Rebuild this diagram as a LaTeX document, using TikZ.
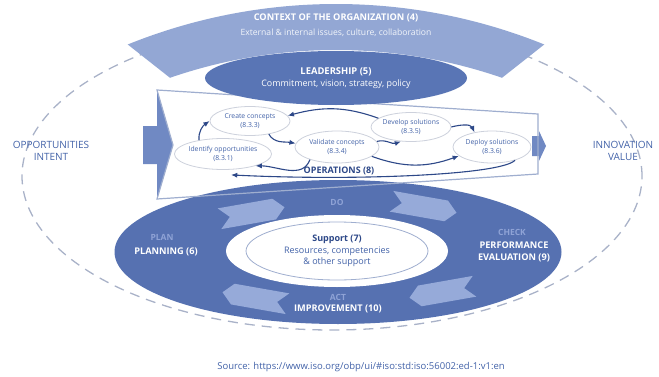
\documentclass[tikz,border=0pt]{standalone}
\usepackage{fontspec}
\setmainfont{Open Sans}
\usepackage{xcolor}
\usepackage{tikz}
\usetikzlibrary{arrows.meta,positioning,shapes.geometric,shapes.symbols}

\definecolor{ctxblue}{HTML}{93A7D4}
\definecolor{leadblue}{HTML}{5975B5}
\definecolor{ringblue}{HTML}{5671B1}
\definecolor{chevblue}{HTML}{9DB1DE}
\definecolor{phaseblue}{HTML}{8FA3D6}
\definecolor{arrowblue}{HTML}{7089C3}
\definecolor{navy}{HTML}{2D4888}
\definecolor{txtblue}{HTML}{4262A8}
\definecolor{dashgray}{HTML}{A9B2C8}
\definecolor{rimgray}{HTML}{9FAECF}
\definecolor{procgray}{HTML}{CDD1DC}

\begin{document}
\begin{tikzpicture}[
  x=1pt, y=1pt,
  proc/.style={draw=procgray, line width=0.8pt, fill=white, ellipse, inner sep=0pt,
               align=center, text=txtblue, font=\fontsize{6.8}{8.5}\selectfont},
  arr/.style={-{Latex[length=2.2mm, width=1.8mm]}, navy, line width=1.1pt},
  ringlbl/.style={text=white, font=\fontsize{9.2}{12}\selectfont\bfseries, align=center},
  phase/.style={text=phaseblue, font=\fontsize{8.5}{9}\selectfont\bfseries},
  chev/.style={signal, fill=chevblue, fill opacity=0.9, minimum width=66pt,
               minimum height=21pt, inner sep=0pt},
  side/.style={text=txtblue, font=\fontsize{10}{12.5}\selectfont, align=center}
]
\useasboundingbox (0,0) rectangle (659,376);

\draw[dashgray, line width=1.3pt, dash pattern=on 10pt off 7pt]
  (332,200) ellipse [x radius=310, y radius=154];

% context band
\fill[ctxblue] ([shift={(336,-184)}]112:556) arc[start angle=112, end angle=68, radius=556]
  -- ([shift={(336,-184)}]71:510) arc[start angle=71, end angle=109, radius=510] -- cycle;
\node[text=white, font=\fontsize{9.2}{10}\selectfont\bfseries] (ctx) at (336,358)
  {CONTEXT OF THE ORGANIZATION (4)};
\node[text=white!88!ctxblue, font=\fontsize{8.6}{9}\selectfont, below=0pt of ctx] (ctxsub)
  {External \& internal issues, culture, collaboration};

% operations panel
\fill[white] (157,286) -- (538,262) -- (538,202) -- (157,177) -- (173,231) -- cycle;
\fill[arrowblue] (143,212) -- (157,212) -- (157,177) -- (173,231) -- (157,286)
  -- (157,250) -- (143,250) -- cycle;
\fill[arrowblue] (532,220) -- (539,220) -- (539,215) -- (546,230) -- (539,245)
  -- (539,240) -- (532,240) -- cycle;

\node[ellipse, fill=ringblue, minimum width=447pt, minimum height=144pt, inner sep=0pt]
  (ring) at (338,124) {};
\draw[rimgray, line width=1.2pt] (157,286) -- (538,262) -- (538,202) -- (157,177)
  -- (173,231) -- cycle;

\node[proc, minimum width=92pt, minimum height=31pt] (identify) at (223,222)
  {Identify opportunities\\(8.3.1)};
\node[proc, minimum width=80pt, minimum height=29pt] (create) at (250,255)
  {Create concepts\\(8.3.3)};
\node[proc, minimum width=84pt, minimum height=32pt] (validate) at (337,229)
  {Validate concepts\\(8.3.4)};
\node[proc, minimum width=78pt, minimum height=29pt] (develop) at (411,249)
  {Develop solutions\\(8.3.5)};
\node[proc, minimum width=78pt, minimum height=32pt] (deploy) at (492,229)
  {Deploy solutions\\(8.3.6)};

\draw[arr] (identify.150) to[out=95, in=215] (create.west);
\draw[arr] (create.-35) to[out=-60, in=170] (validate.175);
\draw[arr] (validate.-155) to[out=-110, in=0] (identify.-20);
\draw[arr] (develop.165) to[out=160, in=15] (create.8);
\draw[arr] (validate.8) to[out=15, in=-160] (develop.-125);
\draw[arr] (develop.east) to[out=15, in=115] (deploy.140);
\draw[arr] (validate.-15) to[out=-20, in=200] (deploy.195);
\draw[arr] (deploy.-30) .. controls +(-15,-15) and +(120,-6)
  .. ([xshift=8pt, yshift=-5pt]identify.south);
\node[text=navy, font=\fontsize{9}{10}\selectfont\bfseries] (ops) at (339,205)
  {OPERATIONS (8)};

\node[ellipse, fill=leadblue, minimum width=262pt, minimum height=54pt, inner sep=0pt,
      align=center, text=white] (lead) at (336,298)
  {{\fontsize{9.4}{12}\selectfont\bfseries LEADERSHIP (5)}\\
   {\fontsize{8.9}{12}\selectfont Commitment, vision, strategy, policy}};

% PDCA ring
\node[chev, signal to=east, signal from=west, rotate=10] (chevplan) at (252,163) {};
\node[chev, signal to=east, signal from=west, rotate=-10] (chevdo) at (424,169) {};
\node[chev, signal to=west, signal from=east, rotate=10] (chevcheck) at (442,84) {};
\node[chev, signal to=west, signal from=east, rotate=-10] (chevact) at (255,78) {};

\node[ellipse, fill=white, minimum width=222pt, minimum height=72pt] (supportbg)
  at (337,125) {};
\node[ellipse, draw=rimgray, line width=0.8pt, minimum width=182pt, minimum height=58pt,
      inner sep=0pt, align=center, text=txtblue, font=\fontsize{9}{11.5}\selectfont]
  (support) at (337,125)
  {{\bfseries\color{navy}Support (7)}\\Resources, competencies\\\& other support};

\node[phase] (plan) at (162,139) {PLAN};
\node[ringlbl] (planning) at (166,124) {PLANNING (6)};
\node[phase] (do) at (337,174) {DO};
\node[phase] (check) at (512,144) {CHECK};
\node[ringlbl] (perf) at (514,124) {PERFORMANCE\\EVALUATION (9)};
\node[phase] (act) at (338,79) {ACT};
\node[ringlbl] (improve) at (338,67) {IMPROVEMENT (10)};

\node[side] (intent) at (51,225) {OPPORTUNITIES\\INTENT};
\node[side] (value) at (623,225) {INNOVATION\\VALUE};

\node[text=txtblue, font=\fontsize{9.5}{10}\selectfont] (source) at (361,9)
  {Source: https://www.iso.org/obp/ui/\#iso:std:iso:56002:ed-1:v1:en};
\end{tikzpicture}
\end{document}
